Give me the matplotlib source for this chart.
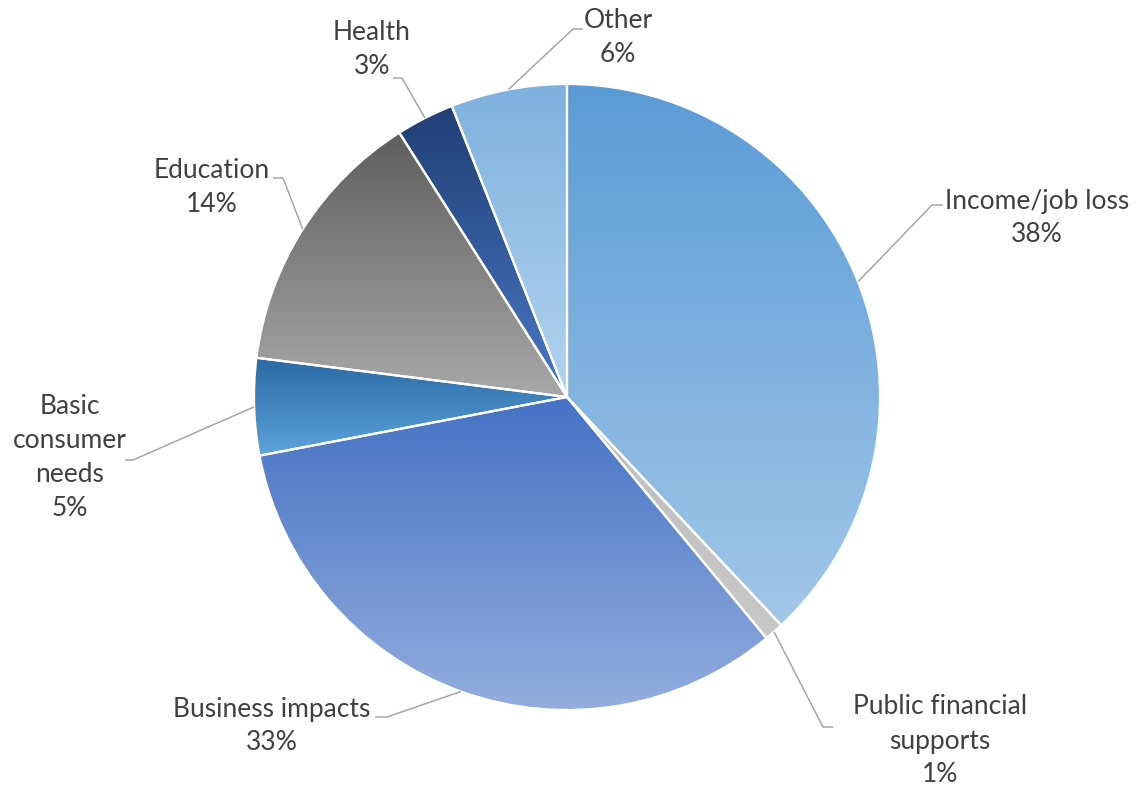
import numpy as np
import matplotlib.pyplot as plt
from matplotlib.colors import LinearSegmentedColormap

# share of responses by concern
categories = ['Income/job loss', 'Public financial\nsupports', 'Business impacts',
              'Basic\nconsumer\nneeds', 'Education', 'Health', 'Other']
shares = [38, 1, 33, 5, 14, 3, 6]

# gradient fills, top colour -> bottom colour
top_colors = ['#5A9BD5', '#BDBDBD', '#4472C4', '#2A6AA6', '#5E5E5E', '#203F74', '#7DB1DE']
bottom_colors = ['#A2C7E8', '#C8C8C8', '#93ADDD', '#5DA3DA', '#A8A8A8', '#4A78C6', '#B3D3EF']

# label layout in pixels: elbow of leader, end of leader, label centre
PX_CX, PX_CY, PX_R = 567, 397, 313
elbows = [(932, 205), (823, 727), (387, 717), (133, 460), (283, 178), (402, 78), (573, 29)]
ends = [(943, 205), (833, 727), (375, 717), (125, 460), (273, 178), (393, 78), (583, 29)]
label_pos = [(1037, 218), (940, 741), (272, 726), (70, 458), (212, 188), (372, 50), (618, 38)]


def to_data(p):
    return ((p[0] - PX_CX) / PX_R, (PX_CY - p[1]) / PX_R)


W, H = 1136, 786
fig = plt.figure(figsize=(W / 100, H / 100), dpi=100)
ax = fig.add_axes([0, 0, 1, 1])

wedges, _ = ax.pie(shares, startangle=90, counterclock=False, radius=1,
                   wedgeprops=dict(facecolor='none', edgecolor='white', linewidth=1.6, zorder=3))

grad = np.linspace(0, 1, 256).reshape(-1, 1)
for w, c0, c1 in zip(wedges, top_colors, bottom_colors):
    bb = w.get_path().get_extents(w.get_patch_transform())
    cmap = LinearSegmentedColormap.from_list('g', [c0, c1])
    im = ax.imshow(grad, cmap=cmap, aspect='auto', origin='upper',
                   extent=[bb.x0, bb.x1, bb.y0, bb.y1], zorder=2, interpolation='bilinear')
    im.set_clip_path(w)

ax.set_xlim(-PX_CX / PX_R, (W - PX_CX) / PX_R)
ax.set_ylim((PX_CY - H) / PX_R, PX_CY / PX_R)
ax.set_aspect('equal')
ax.axis('off')

for w, name, val, el, en, lp in zip(wedges, categories, shares, elbows, ends, label_pos):
    mid = np.deg2rad((w.theta1 + w.theta2) / 2)
    start = (np.cos(mid), np.sin(mid))
    e1 = to_data(el)
    e2 = to_data(en)
    ax.plot([start[0], e1[0], e2[0]], [start[1], e1[1], e2[1]],
            color='#A6A6A6', lw=1.1, zorder=4, solid_capstyle='butt')
    tx, ty = to_data(lp)
    ax.text(tx, ty, f'{name}\n{val}%', ha='center', va='center', multialignment='center',
            fontsize=19, family='Lato', color='#404040', linespacing=1.45)

fig.savefig('out.png', dpi=100, facecolor='white')
